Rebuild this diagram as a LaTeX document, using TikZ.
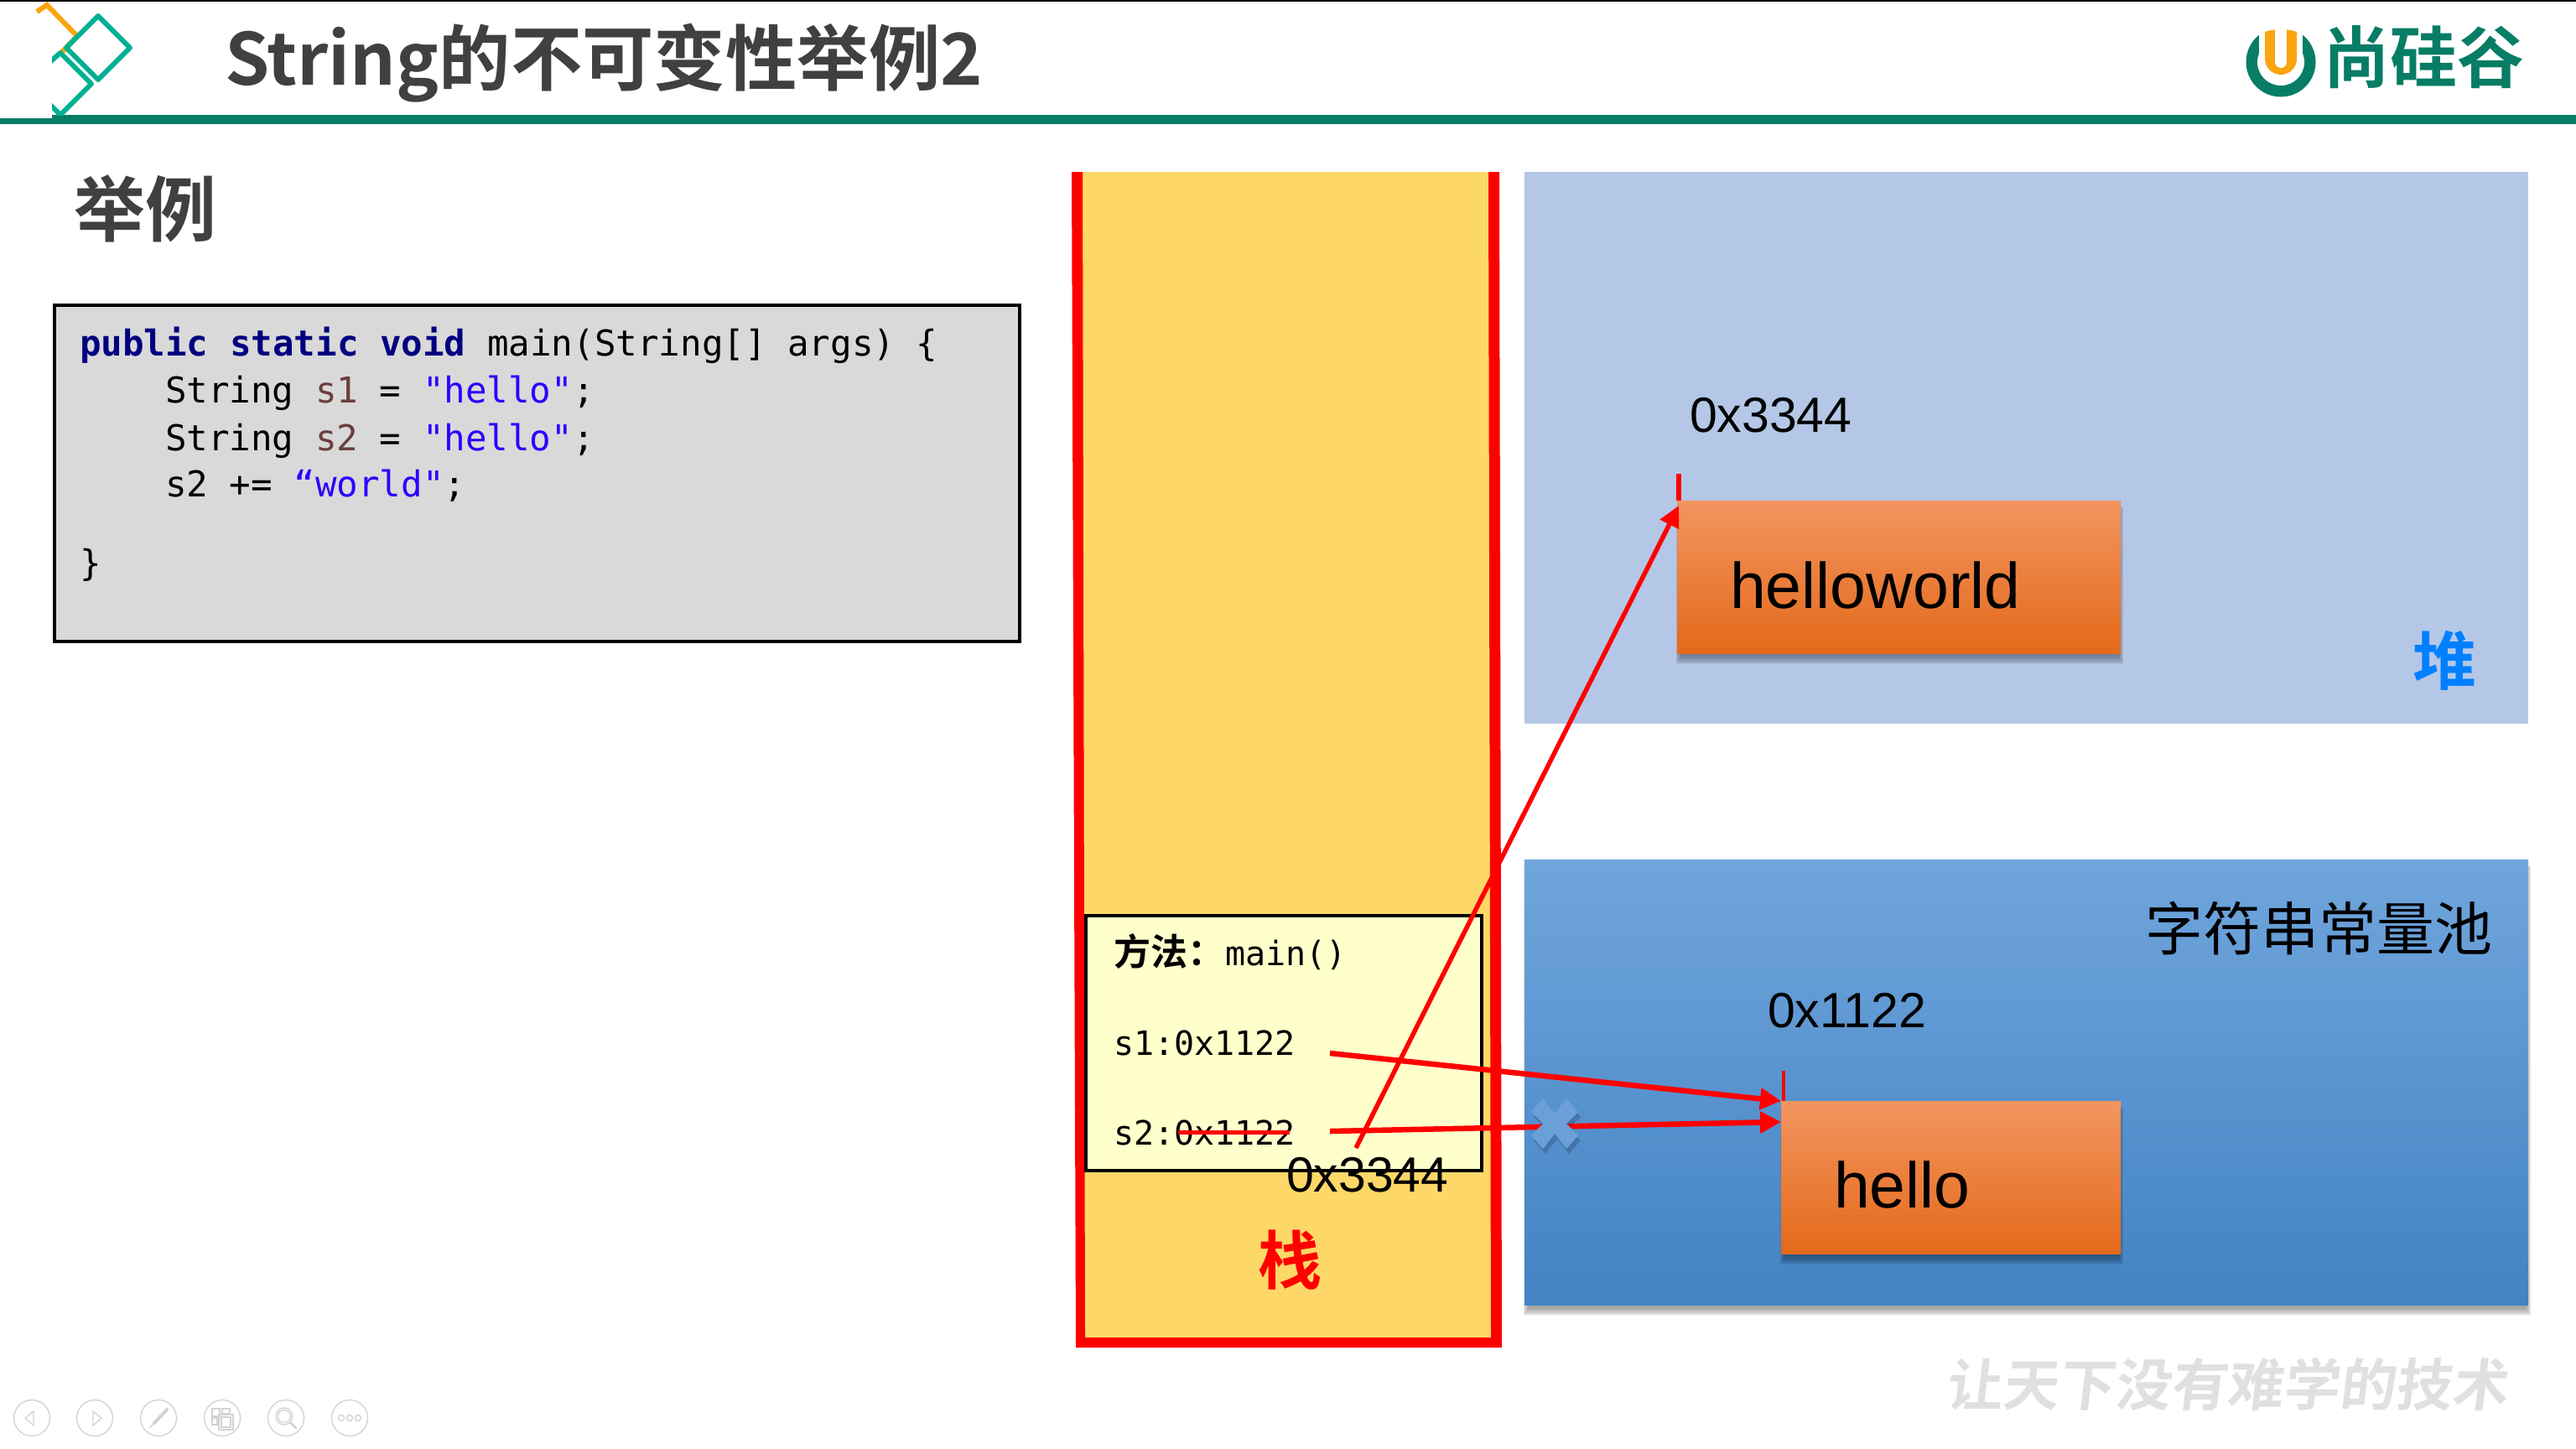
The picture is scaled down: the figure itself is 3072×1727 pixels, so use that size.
\documentclass[tikz,border=0pt]{standalone}
\usepackage{fontspec}
\usetikzlibrary{arrows.meta,calc}
\setmainfont{Liberation Sans}
\newfontfamily\cjkreg{Noto Sans CJK SC}
\newfontfamily\cjkb{Noto Sans CJK SC Bold}
\newfontfamily\cjkslant[FakeSlant=0.12]{Noto Sans CJK SC Bold}
\newfontfamily\codefont{DejaVu Sans Mono}
\newcommand{\fsz}[1]{\fontsize{#1}{#1}\selectfont}
\definecolor{brandgreen}{HTML}{077D66}
\definecolor{tealmark}{HTML}{00B092}
\definecolor{orangemark}{HTML}{FAA50F}
\definecolor{darktext}{HTML}{404040}
\definecolor{stackfill}{HTML}{FDD868}
\definecolor{codefill}{HTML}{D9D9D9}
\definecolor{kw}{HTML}{000080}
\definecolor{vr}{HTML}{6A3E3E}
\definecolor{st}{HTML}{2A00FF}
\definecolor{iconc}{HTML}{D2D2D2}
\definecolor{orangeA}{HTML}{F29560}
\definecolor{orangeB}{HTML}{E4691A}
\definecolor{heapc}{HTML}{B4C7E7}
\definecolor{poolA}{HTML}{70A5DC}
\definecolor{poolB}{HTML}{4283C3}
\definecolor{heapblue}{HTML}{0080FF}
\definecolor{methodc}{HTML}{FFFFCC}
\definecolor{crossc}{HTML}{6A9FD8}
\definecolor{wm}{HTML}{E0E0E0}
\newcommand{\softshadow}[4]{% x1 y1 x2 y2
  \foreach \k in {1,...,8}{
    \fill[black,opacity=0.05] ({#1+5-0.8*\k},{#2+8}) rectangle ({#3-3+0.8*\k},{#4+3+1.3*\k});
  }}
\tikzset{
  txt/.style={inner sep=0pt,outer sep=0pt,anchor=base west},
  code/.style={txt,font=\codefont\fsz{42.5}},
  small/.style={txt,font=\codefont\fsz{40}},
  addr/.style={txt,font=\fsz{59}},
  redline/.style={draw=red,line width=6.5pt},
  redarrow/.style={redline,-{Triangle[length=25pt,width=25pt]}},
  obj/.style={inner sep=0pt,outer sep=0pt,anchor=north west,top color=orangeA,bottom color=orangeB},
  icon/.style={draw=iconc,line width=1.3pt},
  panel/.style={inner sep=0pt,outer sep=0pt,anchor=north west},
}
\begin{document}
\begin{tikzpicture}[x=1pt,y=-1pt]
\useasboundingbox (0,0) rectangle (3072,1727);
\fill[white] (0,0) rectangle (3072,1727);
% header
\fill[black] (0,0) rectangle (3072,2);
\fill[brandgreen] (0,141) rectangle (62,148);
\fill[brandgreen] (62,137) rectangle (3072,148);
\begin{scope}
\clip (42,0) rectangle (200,137);
\draw[orangemark,line width=6pt,miter limit=10] (44,14) -- (56,6) -- (92,43) -- (72,64);
\draw[tealmark,line width=6pt,line join=round] (117,19) -- (155,57) -- (117,95) -- (79,57) -- cycle;
\begin{scope}
\clip (62,0) rectangle (200,137);
\draw[tealmark,line width=6pt,line join=round] (55,78) -- (72,63) -- (109,100) -- (72,137) -- (55,120);
\end{scope}
\end{scope}
\node[txt,font=\cjkb\fsz{85.4},text=darktext] (title) at (268,101) {String的不可变性举例2};
% brand logo
\fill[brandgreen] (2720,74) circle (41.5);
\fill[white] (2694,28) rectangle (2746,74);
\fill[white] (2720,74) circle (28);
\fill[orangemark] (2701,38) .. controls (2712,34) and (2728,34) .. (2739,38) -- (2739,70) arc (0:180:19) -- cycle;
\fill[white] (2713,34) rectangle (2727,74);
\fill[white] (2720,74) circle (7);
\node[txt,font=\cjkb\fsz{80},text=brandgreen] (brand) at (2770,98) {尚硅谷};
% subheading
\node[txt,font=\cjkb\fsz{85},text=darktext] (heading) at (88,281) {举例};
% code
\node[panel,fill=codefill,draw=black,line width=3.5pt,minimum width=1151pt,minimum height=401pt] (codebox) at (65,364) {};
\node[code] (l1) at (95,424) {\textcolor{kw}{\bfseries public static void} main(String[] args) \{};
\node[code] (l2) at (197,480) {String \textcolor{vr}{s1} = \textcolor{st}{"hello"};};
\node[code] (l3) at (197,537) {String \textcolor{vr}{s2} = \textcolor{st}{"hello"};};
\node[code] (l4) at (197,592) {s2 += \textcolor{st}{“world"};};
\node[code] (l5) at (95,686) {\}};
% stack
\node[panel,fill=stackfill,minimum width=498pt,minimum height=1397pt] (stack) at (1285,205) {};
\fill[red] (1278,205) -- (1291,205) -- (1294,1595) -- (1778,1595) -- (1775,205) -- (1788,205) -- (1791,1607) -- (1283,1607) -- cycle;
% heap, pool
\node[panel,fill=heapc,minimum width=1197pt,minimum height=658pt] (heap) at (1818,205) {};
\softshadow{1818}{1025}{3015}{1556}
\node[panel,top color=poolA,bottom color=poolB,minimum width=1197pt,minimum height=531pt] (pool) at (1818,1025) {};
\node[txt,font=\cjkb\fsz{76},text=heapblue] (heaplbl) at (2877,816) {堆};
\node[txt,font=\cjkreg\fsz{69},text=black] (poollbl) at (2558,1133) {字符串常量池};
% objects
\softshadow{2000}{597}{2529}{779}
\node[obj,minimum width=529pt,minimum height=182pt] (hw) at (2000,597) {};
\node[txt,font=\fsz{77}] (hwt) at (2063,725) {helloworld};
\softshadow{2124}{1313}{2529}{1495}
\node[obj,minimum width=405pt,minimum height=182pt] (hl) at (2124,1313) {};
\node[txt,font=\fsz{77}] (hlt) at (2187,1440) {hello};
\node[addr] (a1) at (2015,515) {0x3344};
\node[addr] (a2) at (2108,1225) {0x1122};
% method frame
\node[panel,fill=methodc,draw=black,line width=3.5pt,minimum width=472pt,minimum height=304pt] (method) at (1295,1092) {};
\node[txt,font=\cjkb\fsz{44}] (m0) at (1328,1151) {方法：};
\node[small] (m1) at (1461,1151) {main()};
\node[small] (s1t) at (1328,1258) {s1:0x1122};
\node[small] (s2t) at (1328,1365) {s2:0x1122};
\node[addr] (a3) at (1534,1421) {0x3344};
\node[inner sep=0pt,font=\cjkb\fsz{76},text=red] (stacklbl) at (1538,1503) {栈};
% connectors
\coordinate (s1from) at (1586,1256);
\coordinate (s2from) at (1586,1349);
\coordinate (s3from) at (1617,1369);
\coordinate (strikeA) at (1405,1350);
\coordinate (strikeB) at (1538,1350);
\coordinate (tickA) at (2127,1277);
\coordinate (tickB) at (2002,565);
\coordinate (hwIn) at (2002,603);
\draw[redline,line width=5pt] (strikeA) -- (strikeB);
\draw[redline,line width=4.5pt] (tickA) -- (hl.north west -| tickA);
\draw[redline,line width=5.5pt] (tickB) -- (hw.north west -| tickB);
\draw[redarrow] (s1from) -- (hl.north west);
\draw[redarrow] (s2from) -- ($(hl.north west)+(0,25)$);
\draw[redline,line width=5.5pt,-{Triangle[length=25pt,width=24pt]}] (s3from) -- (hwIn);
% cross
\begin{scope}[shift={(1854,1340)}]
\fill[black,opacity=0.18,shift={(3,6)}] (-14,-30) -- (0,-12) -- (14,-30) -- (28,-14) -- (14,0) -- (28,14) -- (14,30) -- (0,12) -- (-14,30) -- (-28,14) -- (-14,0) -- (-28,-14) -- cycle;
\fill[crossc] (-14,-30) -- (0,-12) -- (14,-30) -- (28,-14) -- (14,0) -- (28,14) -- (14,30) -- (0,12) -- (-14,30) -- (-28,14) -- (-14,0) -- (-28,-14) -- cycle;
\end{scope}
% navigation icons
\foreach \cx in {38,113,189,265,341,417}{\draw[icon] (\cx,1691) circle (21.5);}
\draw[icon] (40,1683) -- (30,1691) -- (40,1700) -- cycle;
\draw[icon] (111,1683) -- (121,1691) -- (111,1700) -- cycle;
\draw[icon,line width=4pt,line cap=round] (184,1697) -- (199,1681);
\draw[icon] (178,1703) -- (184,1697);
\draw[icon] (253,1680) rectangle (262,1689) (265,1680) rectangle (274,1686) (253,1691) rectangle (259,1699) (261,1687) rectangle (278,1705) (264,1690) rectangle (275,1702);
\draw[icon] (339,1689) circle (10) (339,1689) circle (7.5);
\draw[icon,line width=2.5pt,line cap=round] (347,1697) -- (353,1703);
\foreach \dx in {-10,0,10}{\draw[icon] ($(417,1691)+(\dx,0)$) circle (3.5);}
% watermark
\node[txt,font=\cjkslant\fsz{67},text=wm] (slogan) at (2320,1676) {让天下没有难学的技术};
\end{tikzpicture}
\end{document}
